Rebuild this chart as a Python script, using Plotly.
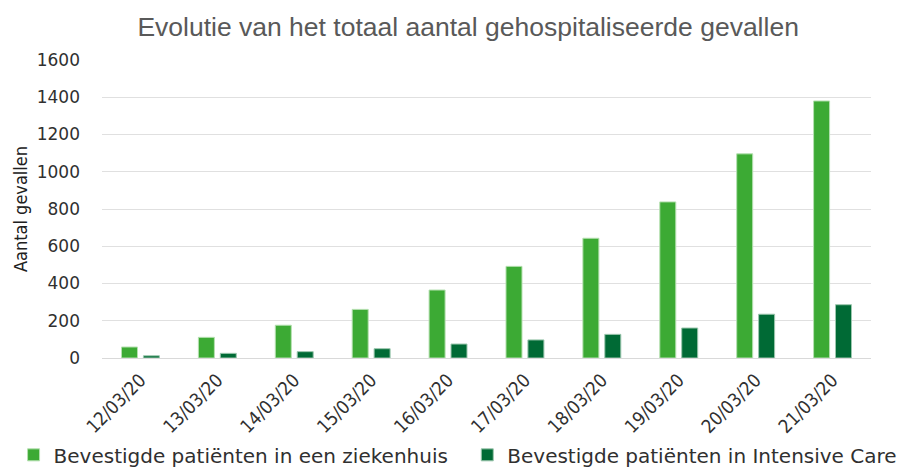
import plotly.graph_objects as go

dates = ['12/03/20', '13/03/20', '14/03/20', '15/03/20', '16/03/20',
         '17/03/20', '18/03/20', '19/03/20', '20/03/20', '21/03/20']
ziekenhuis = [59, 111, 176, 261, 365, 492, 643, 838, 1096, 1380]
intensive_care = [12, 25, 34, 50, 75, 97, 127, 161, 235, 286]

fig = go.Figure()
fig.add_trace(go.Bar(x=dates, y=ziekenhuis, showlegend=True,
                     name='Bevestigde patiënten in een ziekenhuis', legend='legend',
                     marker=dict(color='#3caa34', line=dict(color='#b5e0b0', width=1))))
fig.add_trace(go.Bar(x=dates, y=intensive_care, showlegend=True,
                     name='Bevestigde patiënten in Intensive Care', legend='legend2',
                     marker=dict(color='#006a35', line=dict(color='#9cc7ae', width=1))))

# page body adds an 8px offset, so the figure is 904x460
leg_font = dict(size=20, color='#303030', family='DejaVu Sans')
fig.update_layout(
    width=904, height=460,
    margin=dict(l=94, r=41, t=52, b=110, autoexpand=False),
    plot_bgcolor='white', paper_bgcolor='white',
    showlegend=True,
    font=dict(family='DejaVu Sans', color='#404040'),
    title=dict(text='Evolutie van het totaal aantal gehospitaliseerde gevallen',
               x=0.509, xanchor='center', y=0.96, yanchor='middle',
               font=dict(size=26.5, color='#595959', family='Liberation Sans')),
    barmode='group', bargap=0.43, bargroupgap=0.27,
    legend=dict(orientation='h', x=-0.115, xanchor='left', y=-0.325, yanchor='middle',
                font=leg_font, itemwidth=30, bgcolor='rgba(0,0,0,0)'),
    legend2=dict(orientation='h', x=0.475, xanchor='left', y=-0.325, yanchor='middle',
                 font=leg_font, itemwidth=30, bgcolor='rgba(0,0,0,0)'),
)
fig.update_xaxes(tickangle=-45, automargin=False, ticklabelstandoff=3,
                 tickfont=dict(size=18.5, family='DejaVu Sans Condensed, DejaVu Sans', color='#303030'),
                 showline=True, linecolor='#d9d9d9', ticks='')
fig.update_yaxes(range=[0, 1600], dtick=200, showgrid=True, gridcolor='#e0e0e0', gridwidth=1,
                 automargin=False, zeroline=False, ticklabelstandoff=21,
                 tickfont=dict(size=17, color='#303030'),
                 title=dict(text='Aantal gevallen', standoff=4,
                            font=dict(size=18, family='DejaVu Sans Condensed, DejaVu Sans', color='#202020')))

fig.write_html('out.html')
